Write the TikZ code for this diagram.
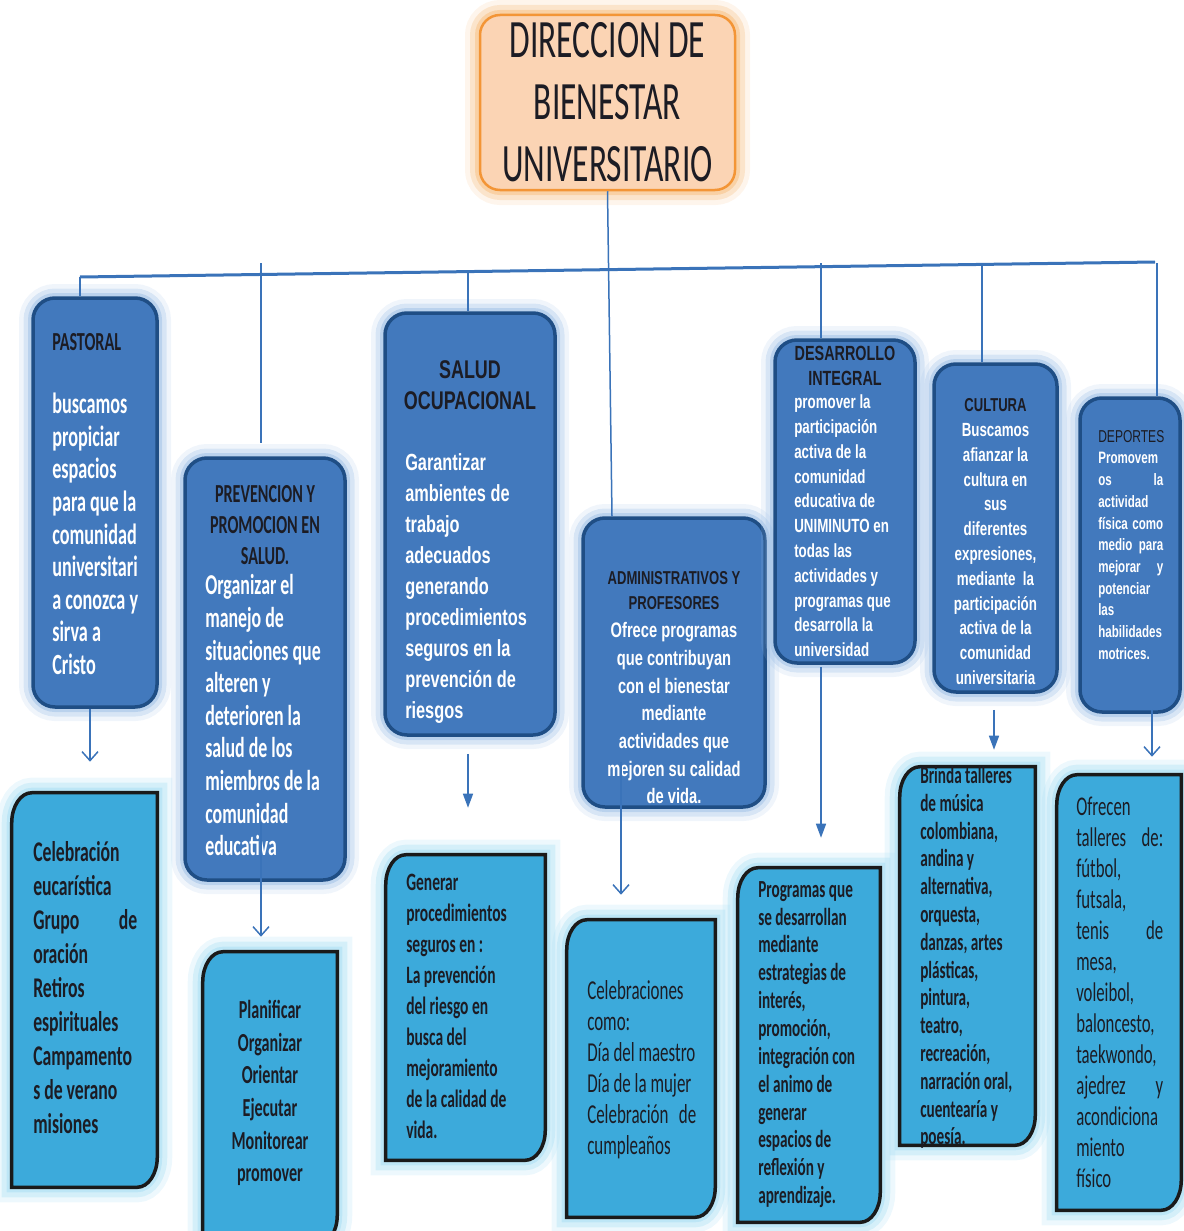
\documentclass[tikz,border=0pt]{standalone}
\usepackage{fontspec}
\usetikzlibrary{arrows.meta, positioning}
\newfontfamily\calib[FakeStretch=0.62]{Carlito}
\newfontfamily\arialn[FakeStretch=0.7]{Liberation Sans}
\setlength{\parindent}{0pt}

\definecolor{topfill}{HTML}{4279BD}
\definecolor{topline}{HTML}{1F4E85}
\definecolor{topglow}{HTML}{9DBFE6}
\definecolor{lowfill}{HTML}{3CAADB}
\definecolor{lowline}{HTML}{1A1A1A}
\definecolor{lowglow}{HTML}{A6DDF3}
\definecolor{titlefill}{HTML}{FBD4B4}
\definecolor{titleline}{HTML}{F39536}
\definecolor{titleglow}{HTML}{F6BE80}
\definecolor{linkblue}{HTML}{3A73B9}
\definecolor{ink}{HTML}{1C1C24}

\newdimen\pxu \pxu=0.75pt
\newcommand\fs[2]{\fontsize{#1}{#2}\selectfont}
\newcommand\spread[2]{\makebox[#1\pxu][s]{#2}}

% lower boxes: only top left and bottom right corners are round
\newcommand\snipbox[1]{%
  \draw[lowbox] (#1.south west) -- ([yshift=-30\pxu]#1.north west)
    arc[start angle=180, end angle=90, x radius=20\pxu, y radius=30\pxu]
    -- (#1.north east) -- ([yshift=30\pxu]#1.south east)
    arc[start angle=0, end angle=-90, x radius=20\pxu, y radius=30\pxu]
    -- cycle;}

\begin{document}
\begin{tikzpicture}[
    x=0.75pt, y=-0.75pt,
    every node/.style={inner sep=0pt},
    titlebox/.style={draw=titleline, line width=2.5\pxu, fill=titlefill, rounded corners=20\pxu,
      preaction={draw=titleglow, line width=30\pxu, opacity=.15},
      preaction={draw=titleglow, line width=20\pxu, opacity=.3},
      preaction={draw=titleglow, line width=10\pxu, opacity=.5}},
    topbox/.style={draw=topline, line width=3.5\pxu, fill=topfill, rounded corners=22\pxu,
      preaction={draw=topglow, line width=28\pxu, opacity=.15},
      preaction={draw=topglow, line width=19\pxu, opacity=.3},
      preaction={draw=topglow, line width=10\pxu, opacity=.5}},
    lowframe/.style={rectangle},
    lowbox/.style={draw=lowline, line width=3.5\pxu, fill=lowfill,
      preaction={draw=lowglow, line width=30\pxu, opacity=.2},
      preaction={draw=lowglow, line width=20\pxu, opacity=.35},
      preaction={draw=lowglow, line width=10\pxu, opacity=.5}},
    toptxt/.style={text=white},
    hdrtxt/.style={text=ink},
    lowtxt/.style={text=ink},
    bus/.style={draw=linkblue, line width=3\pxu},
    link/.style={draw=linkblue, line width=1.5\pxu},
    vtip/.style={link, -{Straight Barb[length=6.75pt, width=12pt]}},
    ftip/.style={link, -{Triangle[length=10.5pt, width=7.5pt]}}
  ]
  \useasboundingbox (0,0) rectangle (1183,1231);

  % Head
  \node[titlebox, minimum width=255\pxu, minimum height=175\pxu, align=center,
    font=\calib\fs{40.5}{46.5}, text=ink] (direccion) at (607.5,102.5)
    {DIRECCION DE\\BIENESTAR\\UNIVERSITARIO};

  % Areas
  \node[topbox, minimum width=124\pxu, minimum height=409\pxu] (pastoral) at (95,502.5) {};
  \node[topbox, minimum width=160\pxu, minimum height=422\pxu] (prevencion) at (265,669) {};
  \node[topbox, minimum width=170\pxu, minimum height=422\pxu] (saludocup) at (470,524) {};
  \node[topbox, minimum width=182\pxu, minimum height=289\pxu] (admin) at (674,662.5) {};
  \node[topbox, minimum width=140\pxu, minimum height=323\pxu] (desarrollo) at (845,501.5) {};
  \node[topbox, minimum width=123\pxu, minimum height=328\pxu] (cultura) at (995.5,528) {};
  \node[topbox, minimum width=100\pxu, minimum height=314\pxu] (deportes) at (1130,555) {};

  \node[toptxt, anchor=north west, align=left, font=\calib\bfseries\fs{22}{24.45}] (pastoral-t) at (52,332.7)
    {{\color{ink}\fs{19.5}{24.45}PASTORAL}\\[23.3pt]buscamos\\propiciar\\espacios\\para que la\\comunidad\\universitari\\a conozca y\\sirva a\\Cristo};

  \node[hdrtxt, anchor=north, align=center, font=\calib\bfseries\fs{19.5}{23.25}] (prevencion-h) at (265,484.7)
    {PREVENCION Y\\PROMOCION EN\\SALUD.};
  \node[toptxt, anchor=north west, align=left, font=\calib\bfseries\fs{21.6}{24.45}] (prevencion-t) at (205,574.5)
    {Organizar el\\manejo de\\situaciones que\\alteren y\\deterioren la\\salud de los\\miembros de la\\comunidad\\educativa};

  \node[hdrtxt, anchor=north, align=center, font=\arialn\bfseries\fs{19.2}{23.25}] (saludocup-h) at (470,360.8)
    {SALUD\\OCUPACIONAL};
  \node[toptxt, anchor=north west, align=left, font=\arialn\bfseries\fs{17.5}{23.25}] (saludocup-t) at (405,453)
    {Garantizar\\ambientes de\\trabajo\\adecuados\\generando\\procedimientos\\seguros en la\\prevención de\\riesgos};

  \node[toptxt, anchor=north, align=center, font=\arialn\bfseries\fs{15.75}{20.8}] (admin-t) at (674,571.3)
    {{\color{ink}\fs{14}{20.8}ADMINISTRATIVOS Y}\\[-1.9pt]{\color{ink}\fs{14}{20.8}PROFESORES}\\Ofrece programas\\que contribuyan\\con el bienestar\\mediante\\actividades que\\mejoren su calidad\\de vida.};

  \node[hdrtxt, anchor=north, align=center, font=\arialn\bfseries\fs{15.4}{18.75}] (desarrollo-h) at (845,345.7)
    {DESARROLLO\\INTEGRAL};
  \node[toptxt, anchor=north west, align=left, font=\arialn\bfseries\fs{14.3}{18.6}] (desarrollo-t) at (794,394.6)
    {promover la\\participación\\activa de la\\comunidad\\educativa de\\UNIMINUTO en\\todas las\\actividades y\\programas que\\desarrolla la\\universidad};

  \node[toptxt, anchor=north, align=center, font=\arialn\bfseries\fs{14.3}{18.6}] (cultura-t) at (995.5,398.3)
    {{\color{ink}\fs{14}{18.6}CULTURA}\\Buscamos\\afianzar la\\cultura en\\sus\\diferentes\\expresiones,\\mediante\ \ la\\participación\\activa de la\\comunidad\\universitaria};

  \node[toptxt, anchor=north west, align=left, font=\arialn\bfseries\fs{12.4}{16.3}] (deportes-t) at (1098,429.8)
    {{\mdseries\color{ink}\fs{12.9}{16.3}DEPORTES}\\Promovem\\\spread{65}{os \hfill la}\\actividad\\\spread{65}{física como}\\\spread{65}{medio para}\\\spread{65}{mejorar \hfill y}\\potenciar\\las\\habilidades\\motrices.};

  % Activities
  \node[lowframe, minimum width=145\pxu, minimum height=394\pxu] (pastoral-act) at (84.5,990) {};
  \snipbox{pastoral-act}
  \node[lowframe, minimum width=134\pxu, minimum height=293\pxu] (prevencion-act) at (270,1098.5) {};
  \snipbox{prevencion-act}
  \node[lowframe, minimum width=159\pxu, minimum height=305\pxu] (saludocup-act) at (465.5,1007.5) {};
  \snipbox{saludocup-act}
  \node[lowframe, minimum width=148\pxu, minimum height=297\pxu] (admin-act) at (641,1068.5) {};
  \snipbox{admin-act}
  \node[lowframe, minimum width=142\pxu, minimum height=354\pxu] (desarrollo-act) at (809,1045) {};
  \snipbox{desarrollo-act}
  \node[lowframe, minimum width=135\pxu, minimum height=378\pxu] (cultura-act) at (967.5,956) {};
  \snipbox{cultura-act}
  \node[lowframe, minimum width=124\pxu, minimum height=435\pxu] (deportes-act) at (1119,992.5) {};
  \snipbox{deportes-act}

  \node[lowtxt, anchor=north west, align=left, font=\calib\bfseries\fs{21.4}{25.5}] (pastoral-act-t) at (33,841)
    {Celebración\\eucarística\\\spread{104}{Grupo \hfill de}\\oración\\Retiros\\espirituales\\Campamento\\s de verano\\misiones};
  \node[lowtxt, anchor=north, align=center, font=\calib\bfseries\fs{19.5}{24.5}] (prevencion-act-t) at (270,1000)
    {Planificar\\Organizar\\Orientar\\Ejecutar\\Monitorear\\promover};
  \node[lowtxt, anchor=north west, align=left, font=\calib\bfseries\fs{18.75}{23.25}] (saludocup-act-t) at (406,874)
    {Generar\\procedimientos\\seguros en :\\La prevención\\del riesgo en\\busca del\\mejoramiento\\de la calidad de\\vida.};
  \node[lowtxt, anchor=north west, align=left, font=\calib\fs{20.5}{23.25}] (admin-act-t) at (587,980.7)
    {Celebraciones\\como:\\Día del maestro\\Día de la mujer\\\spread{109}{Celebración \hfill de}\\cumpleaños};
  \node[lowtxt, anchor=north west, align=left, font=\calib\bfseries\fs{18.4}{20.9}] (desarrollo-act-t) at (758,881)
    {Programas que\\se desarrollan\\mediante\\estrategias de\\interés,\\promoción,\\integración con\\el animo de\\generar\\espacios de\\reflexión y\\aprendizaje.};
  \node[lowtxt, anchor=north west, align=left, font=\calib\bfseries\fs{18.4}{20.85}] (cultura-act-t) at (920,766)
    {Brinda talleres\\de música\\colombiana,\\andina y\\alternativa,\\orquesta,\\danzas, artes\\plásticas,\\pintura,\\teatro,\\recreación,\\narración oral,\\cuentearía y\\poesía.};
  \node[lowtxt, anchor=north west, align=left, font=\calib\fs{20.25}{23.25}] (deportes-act-t) at (1076,797)
    {Ofrecen\\\spread{87}{talleres \hfill de:}\\fútbol,\\futsala,\\\spread{87}{tenis \hfill de}\\mesa,\\voleibol,\\baloncesto,\\taekwondo,\\\spread{87}{ajedrez \hfill y}\\acondiciona\\miento\\físico};

  % Bus and drops
  \coordinate (busL) at (80,277);
  \coordinate (busR) at (1155,262);
  \coordinate (d2) at (261,263);
  \coordinate (d3) at (468,272);
  \coordinate (d5) at (821,263);
  \coordinate (d6) at (982,263);
  \coordinate (d7) at (1157,263);
  \draw[bus] (busL) -- (busR);
  \draw[link] (busL) -- (busL |- pastoral.north);
  \draw[link, shorten >=9.75pt] (d2) -- (d2 |- prevencion.north);
  \draw[link] (d3) -- (d3 |- saludocup.north);
  \draw[link] (direccion.south) -- ([xshift=-62\pxu]admin.north);
  \draw[link] (d5) -- (d5 |- desarrollo.north);
  \draw[link] (d6) -- (d6 |- cultura.north);
  \draw[link] (d7) -- (d7 |- deportes.north);

  % Arrows down
  \coordinate (a1) at ([xshift=-5\pxu]pastoral.south);
  \coordinate (a2) at ([xshift=-4\pxu, yshift=60\pxu]prevencion.south);
  \coordinate (a3) at ([xshift=-2\pxu, yshift=-17\pxu]saludocup.south);
  \coordinate (a4) at ([xshift=-53\pxu, yshift=47\pxu]admin.south);
  \coordinate (a5) at ([xshift=-24\pxu, yshift=-2\pxu]desarrollo.south);
  \coordinate (a6) at ([xshift=-1.5\pxu, yshift=-16\pxu]cultura.south);
  \coordinate (a7) at ([xshift=22\pxu, yshift=4\pxu]deportes.south);
  \draw[vtip, shorten >=23.25pt] (a1) -- (a1 |- pastoral-act.north);
  \draw[vtip, shorten >=11.25pt] (a2) -- (a2 |- prevencion-act.north);
  \draw[ftip, shorten >=35.25pt] (a3) -- (a3 |- saludocup-act.north);
  \draw[vtip, shorten >=18.75pt] (a4) -- (a4 |- admin-act.north);
  \draw[ftip, shorten >=22.5pt] (a5) -- (a5 |- desarrollo-act.north);
  \draw[ftip, shorten >=12.75pt] (a6) -- (a6 |- cultura-act.north);
  \draw[vtip, shorten >=13.5pt] (a7) -- (a7 |- deportes-act.north);
\end{tikzpicture}
\end{document}
